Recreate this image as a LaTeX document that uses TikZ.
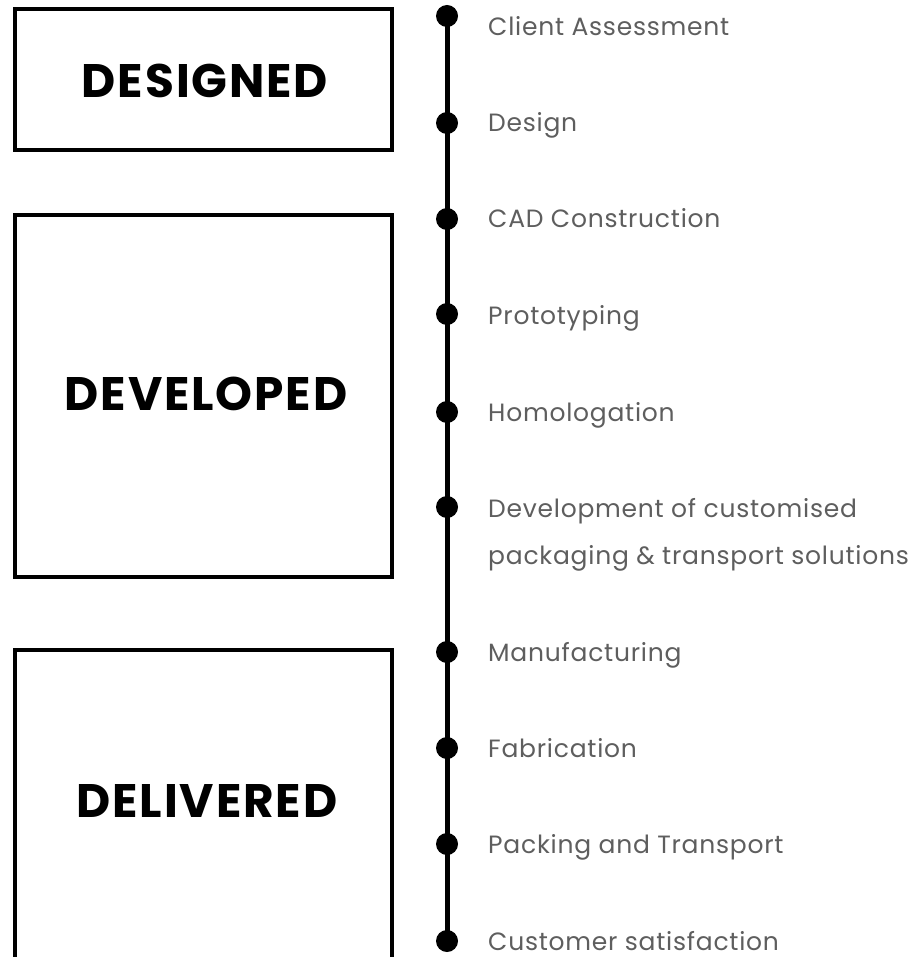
\documentclass[tikz,border=0pt]{standalone}
\usepackage{fontspec}
\setmainfont{Poppins}[LetterSpace=3]
\newfontfamily\boldlab{Poppins}[UprightFont={* Bold},LetterSpace=4]
\definecolor{labgray}{HTML}{5E5E5E}
\begin{document}
\begin{tikzpicture}[x=1pt,y=-1pt,
  phase/.style={draw=black,line width=4.5pt},
  phaselab/.style={font=\boldlab\fontsize{47}{50}\selectfont,text=black,inner sep=0pt},
  dotmark/.style={circle,fill=black,minimum size=22pt,inner sep=0pt},
  steplab/.style={font=\fontsize{25}{47}\selectfont,text=labgray,anchor=base west,inner sep=0pt,align=left}]
\useasboundingbox (0,0) rectangle (912,957);
% boxes
\draw[phase] (15,9) rectangle (392,150);
\draw[phase] (15,215) rectangle (392,577);
\draw[phase] (15,650) rectangle (392,959);
\node[phaselab] (designed) at (205,81) {DESIGNED};
\node[phaselab] (developed) at (206,394) {DEVELOPED};
\node[phaselab] (delivered) at (207,801) {DELIVERED};
% dots
\node[dotmark] (d1) at (447,16) {};
\node[dotmark] (d2) at (447,123) {};
\node[dotmark] (d3) at (447,219) {};
\node[dotmark] (d4) at (447,314) {};
\node[dotmark] (d5) at (447,412) {};
\node[dotmark] (d6) at (447,507) {};
\node[dotmark] (d7) at (447,652) {};
\node[dotmark] (d8) at (447,748) {};
\node[dotmark] (d9) at (447,844) {};
\node[dotmark] (d10) at (447,941) {};
\draw[line width=5pt] (d1.center) -- (d10.center);
% labels
\node[steplab] (l1) at (488,36) {Client Assessment};
\node[steplab] (l2) at (488,132) {Design};
\node[steplab] (l3) at (488,228) {CAD Construction};
\node[steplab] (l4) at (488,324) {Prototyping};
\node[steplab] (l5) at (488,421) {Homologation};
\node[steplab] (l6) at (488,564) {Development of customised\\packaging \& transport solutions};
\node[steplab] (l7) at (488,661) {Manufacturing};
\node[steplab] (l8) at (488,757) {Fabrication};
\node[steplab] (l9) at (488,853) {Packing and Transport};
\node[steplab] (l10) at (488,950) {Customer satisfaction};
\end{tikzpicture}
\end{document}
